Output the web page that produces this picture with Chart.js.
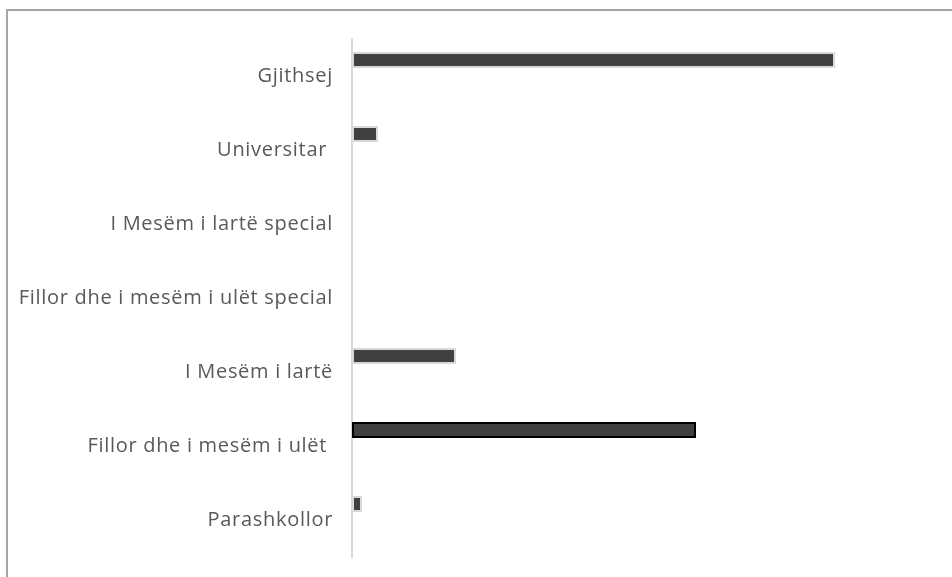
<!DOCTYPE html>
<html>
<head>
<meta charset="utf-8">
<script src="https://cdn.jsdelivr.net/npm/chart.js@4/dist/chart.umd.min.js"></script>
<style>
  html, body { margin: 0; padding: 0; background: #fff; overflow: hidden; }
  #frame { position: absolute; left: 6px; top: 9px; width: 1000px; height: 620px;
           border-left: 2px solid #a6a6a6; border-top: 2px solid #a6a6a6; }
  #wrap { position: absolute; left: 0; top: 0; width: 952px; height: 577px; }
  canvas { display: block; }
</style>
</head>
<body>
<div id="frame"></div>
<div id="wrap"><canvas id="c" width="952" height="577"></canvas></div>
<script>
const categories = [
  "Gjithsej",
  "Universitar ",
  "I Mesëm i lartë special",
  "Fillor dhe i mesëm i ulët special",
  "I Mesëm i lartë",
  "Fillor dhe i mesëm i ulët ",
  "Parashkollor"
];
const seriesValues = [483, 26, 0, 0, 104, 344, 10];
const secondSeries = [null, null, null, null, null, null, null];
const barBorders = ["#d9d9d9", "#d9d9d9", "#d9d9d9", "#d9d9d9", "#d9d9d9", "#000000", "#d9d9d9"];

const spacingPlugin = {
  id: 'spacing',
  beforeDraw(chart) { chart.ctx.letterSpacing = '0.7px'; }
};

new Chart(document.getElementById('c'), {
  type: 'bar',
  data: {
    labels: categories,
    datasets: [
      {
        data: seriesValues,
        backgroundColor: '#404040',
        borderColor: barBorders,
        borderWidth: 2,
        borderSkipped: false,
        categoryPercentage: 0.865,
        barPercentage: 0.5
      },
      {
        data: secondSeries,
        backgroundColor: '#a5a5a5',
        categoryPercentage: 0.865,
        barPercentage: 0.5
      }
    ]
  },
  plugins: [spacingPlugin],
  options: {
    indexAxis: 'y',
    responsive: false,
    maintainAspectRatio: false,
    animation: false,
    devicePixelRatio: 1,
    layout: { autoPadding: false, padding: { left: 0, right: 20, top: 39, bottom: 20 } },
    plugins: { legend: { display: false }, tooltip: { enabled: false } },
    scales: {
      x: { display: false, min: 0, max: 580 },
      y: {
        grid: { display: false, drawTicks: false },
        border: { display: true, color: '#d9d9d9', width: 2 },
        ticks: {
          color: '#595959',
          font: { family: 'Open Sans', size: 20 },
          padding: 19,
          crossAlign: 'near'
        },
        afterFit: (s) => { s.width = 352; s.paddingTop = 0; s.paddingBottom = 0; }
      }
    }
  }
});
</script>
</body>
</html>
